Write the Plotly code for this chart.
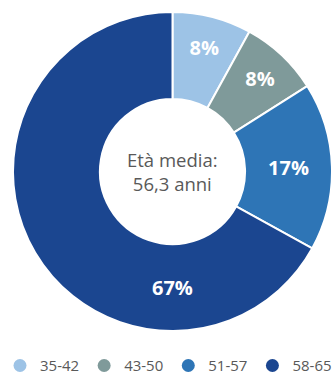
import plotly.graph_objects as go

categories = ["35-42", "43-50", "51-57", "58-65"]
values = [8, 8, 17, 67]
colors = ["#9DC3E6", "#7F9A9A", "#2E75B6", "#1B4690"]
center_text = "Età media:<br>56,3 anni"

W, H = 333, 374
dom_x = [13/W, 332/W]
dom_y = [43/H, 362/H]
hole = 0.455

# the largest slice's label is placed at the bottom of the ring (as in the source)
labels_text = [f"<b>{v}%</b>" for v in values[:-1]] + [""]

fig = go.Figure()
fig.add_trace(go.Pie(
    labels=categories,
    values=values,
    text=labels_text,
    hole=hole,
    sort=False,
    direction="clockwise",
    rotation=0,
    marker=dict(colors=colors, line=dict(color="white", width=2)),
    texttemplate="%{text}",
    textposition="inside",
    insidetextorientation="horizontal",
    textfont=dict(family="Open Sans", size=20, color="white"),
    hoverinfo="label+percent",
    showlegend=False,
    domain=dict(x=dom_x, y=dom_y),
))

# legend entries with round markers
for cat, col in zip(categories, colors):
    fig.add_trace(go.Scatter(
        x=[None], y=[None], mode="markers", name=cat,
        marker=dict(symbol="circle", size=13, color=col),
        showlegend=True, hoverinfo="skip",
    ))

cx, cy = sum(dom_x)/2, sum(dom_y)/2
r_px = min((dom_x[1]-dom_x[0])*W, (dom_y[1]-dom_y[0])*H) / 2
mid_r_px = r_px * (1 + hole) / 2

fig.add_annotation(
    text=center_text, x=cx, y=cy, xref="paper", yref="paper",
    xanchor="center", yanchor="middle",
    showarrow=False, font=dict(family="Open Sans", size=18.5, color="#595959"),
    align="center",
)
fig.add_annotation(
    text=f"<b>{values[-1]}%</b>", x=cx, y=cy - mid_r_px/H, xref="paper", yref="paper",
    xanchor="center", yanchor="middle",
    showarrow=False, font=dict(family="Open Sans", size=20, color="white"),
)

fig.update_layout(
    width=W, height=H,
    margin=dict(l=0, r=0, t=0, b=0, autoexpand=False),
    paper_bgcolor="white",
    plot_bgcolor="white",
    xaxis=dict(visible=False),
    yaxis=dict(visible=False),
    showlegend=True,
    legend=dict(
        orientation="h", x=0.0, xanchor="left", y=0.022, yanchor="middle",
        font=dict(family="Open Sans", size=15, color="#595959"),
        itemwidth=30, traceorder="normal",
    ),
)

fig.write_html("out.html", config={"displayModeBar": False},
               post_script="document.body.style.margin='0';")
